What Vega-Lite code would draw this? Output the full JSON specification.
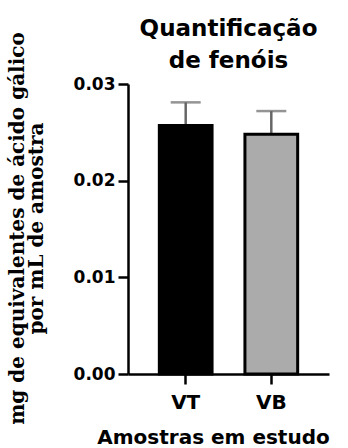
{
  "$schema": "https://vega.github.io/schema/vega-lite/v6.json",
  "width": 201,
  "height": 290,
  "autosize": {"type": "none"},
  "padding": {"left": 128, "top": 84, "right": 19, "bottom": 74},
  "background": "white",
  "title": {
    "text": ["Quantificação", "de fenóis"],
    "font": "DejaVu Sans",
    "fontWeight": "bold",
    "fontSize": 23,
    "lineHeight": 32,
    "color": "black",
    "anchor": "middle",
    "offset": -41
  },
  "data": {
    "values": [
      {"amostra": "VT", "media": 0.0257, "sup": 0.0281},
      {"amostra": "VB", "media": 0.0248, "sup": 0.0272}
    ]
  },
  "encoding": {
    "x": {
      "field": "amostra",
      "type": "nominal",
      "sort": ["VT", "VB"],
      "title": "Amostras em estudo",
      "scale": {"paddingInner": 0.384, "paddingOuter": 0.366}
    }
  },
  "layer": [
    {
      "mark": {"type": "rule", "color": "#666666", "strokeWidth": 2.5},
      "encoding": {
        "y": {"field": "media", "type": "quantitative", "scale": {"domain": [0, 0.03], "nice": false}, "axis": {"values": [0, 0.01, 0.02, 0.03], "format": ".2f"}, "title": ["mg de equivalentes de ácido gálico", "por mL de amostra"]},
        "y2": {"field": "sup"}
      }
    },
    {
      "mark": {"type": "tick", "color": "#666666", "thickness": 2.5, "size": 30, "orient": "horizontal"},
      "encoding": {
        "y": {"field": "sup", "type": "quantitative", "scale": {"domain": [0, 0.03], "nice": false}, "axis": {"values": [0, 0.01, 0.02, 0.03], "format": ".2f"}, "title": ["mg de equivalentes de ácido gálico", "por mL de amostra"]}
      }
    },
    {
      "mark": {"type": "bar", "stroke": "black", "strokeWidth": 3},
      "encoding": {
        "y": {"field": "media", "type": "quantitative", "scale": {"domain": [0, 0.03], "nice": false}, "axis": {"values": [0, 0.01, 0.02, 0.03], "format": ".2f"}, "title": ["mg de equivalentes de ácido gálico", "por mL de amostra"]},
        "color": {
          "field": "amostra",
          "type": "nominal",
          "scale": {"domain": ["VT", "VB"], "range": ["#000000", "#ababab"]},
          "legend": null
        }
      }
    }
  ],
  "config": {
    "view": {"stroke": null},
    "axis": {
      "domainColor": "black",
      "domainWidth": 2.5,
      "tickColor": "black",
      "tickWidth": 2.5,
      "tickSize": 10,
      "labelFont": "DejaVu Sans",
      "labelFontWeight": "bold",
      "labelColor": "black",
      "grid": false,
      "titleColor": "black"
    },
    "axisY": {
      "labelFontSize": 17,
      "labelPadding": 3,
      "titleFont": "DejaVu Serif",
      "titleFontWeight": "bold",
      "titleFontSize": 20,
      "titleLineHeight": 19,
      "titleX": -121,
      "titleY": 144,
      "titleBaseline": "top",
      "titleAlign": "center",
      "titleAngle": -90
    },
    "axisX": {
      "labelAngle": 0,
      "labelFontSize": 20,
      "labelPadding": 8,
      "titleFont": "DejaVu Sans",
      "titleFontWeight": "bold",
      "titleFontSize": 20,
      "titleX": 85,
      "titleY": 69,
      "titleBaseline": "alphabetic"
    }
  }
}
